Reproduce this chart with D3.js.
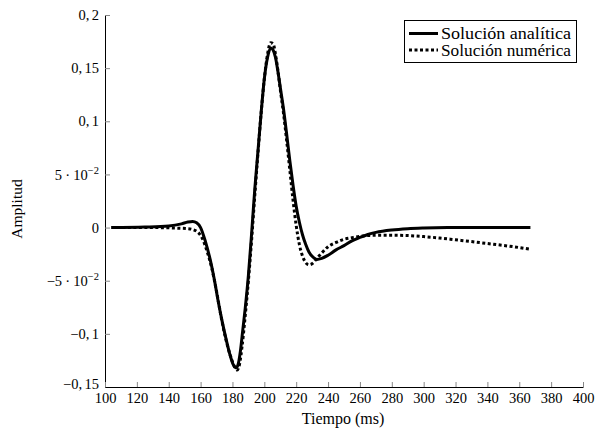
<!DOCTYPE html>
<html>
<head>
<meta charset="utf-8">
<script src="https://cdn.jsdelivr.net/npm/d3@7"></script>
<style>
  html, body { margin: 0; padding: 0; background: #fff; }
  svg { display: block; }
  text { font-family: "Liberation Serif", "DejaVu Serif", serif; fill: #000; }
</style>
</head>
<body>
<svg id="chart" width="595" height="431"></svg>
<script>
// ---- data ----
const xTicks = [100,120,140,160,180,200,220,240,260,280,300,320,340,360,380,400];
const yTicks = [-0.15,-0.1,-0.05,0,0.05,0.1,0.15,0.2];
// label parts: [mantissa pieces..., exponent]
const yTickLabels = [
  {parts: ["−0,", "15"]}, {parts: ["−0,", "1"]}, {parts: ["−5", "·", "10"], exp: "−2"},
  {parts: ["0"]}, {parts: ["5", "·", "10"], exp: "−2"},
  {parts: ["0,", "1"]}, {parts: ["0,", "15"]}, {parts: ["0,", "2"]}
];
const seriesNames = ["Solución analítica", "Solución numérica"];

const analyticT = [104,125,140,148,152,155,157.5,160,163,166,168.5,171,173.5,176,178.5,180.5,182.2,183.5,185,186.5,188,190,192,194,196,198,200,202,204,205.5,207,208.5,210,212,214,216,218,220,222,224,226,228,230,233,236,240,245,250,255,260,265,270,280,290,300,315,340,367];
const analyticV = [0,0.0005,0.0015,0.0035,0.0052,0.0058,0.0045,0.0,-0.013,-0.030,-0.048,-0.069,-0.088,-0.105,-0.120,-0.129,-0.132,-0.129,-0.116,-0.096,-0.076,-0.045,-0.006,0.036,0.072,0.108,0.140,0.160,0.169,0.167,0.160,0.147,0.132,0.112,0.088,0.063,0.040,0.020,0.005,-0.007,-0.016,-0.023,-0.027,-0.030,-0.029,-0.026,-0.021,-0.017,-0.0125,-0.0093,-0.0065,-0.0045,-0.0022,-0.001,-0.0004,0,0,0];

const numericT = [104,130,145,152,157,161,164,167,170,173,176,179,181,183,184.5,186,188,190,192,194,196,198,200,202,204,205.5,207,208.5,210,212,214,216,218,220,222,224,226,228,230,233,236,240,245,250,255,260,265,270,280,290,300,310,320,330,340,350,360,367];
const numericV = [0,0,-0.0005,-0.001,-0.003,-0.010,-0.022,-0.038,-0.060,-0.085,-0.106,-0.122,-0.130,-0.134,-0.128,-0.112,-0.083,-0.050,-0.012,0.030,0.070,0.108,0.140,0.163,0.174,0.173,0.163,0.148,0.130,0.108,0.082,0.054,0.026,0.002,-0.016,-0.027,-0.033,-0.035,-0.034,-0.029,-0.024,-0.018,-0.014,-0.011,-0.0095,-0.0082,-0.0075,-0.0072,-0.0072,-0.0075,-0.0085,-0.0098,-0.0115,-0.0132,-0.015,-0.0168,-0.0188,-0.0205];

// ---- layout ----
const svg = d3.select("#chart");
const X0 = 105, X1 = 583, Y0 = 387, Y1 = 15;
const x = d3.scaleLinear().domain([100, 400]).range([X0, X1]);
const y = d3.scaleLinear().domain([-0.15, 0.2]).range([Y0, Y1]);
const FS = 14.5;

// y axis
const gy = svg.append("g").attr("transform", `translate(${X0},0)`)
  .call(d3.axisLeft(y).tickValues(yTicks).tickSizeInner(-5).tickSizeOuter(0).tickPadding(6).tickFormat(() => ""));
gy.selectAll(".tick line").attr("stroke", "#888");
gy.select(".domain").attr("stroke", "#000").attr("stroke-width", 1);
gy.selectAll(".tick text").each(function(d, i) {
  const t = d3.select(this).attr("font-size", FS).attr("font-family", null);
  if (i === 0) t.attr("y", -3);   // lowest label sits just above the x-axis labels
  const lab = yTickLabels[yTicks.indexOf(d)];
  lab.parts.forEach((p, j) => {
    const sp = t.append("tspan").text(p);
    if (j > 0) sp.attr("dx", lab.exp ? 3.2 : 2.4);
  });
  if (lab.exp) t.append("tspan").attr("dy", -6).attr("font-size", 10.5).text(lab.exp);
});

// x axis
const gx = svg.append("g").attr("transform", `translate(0,${Y0})`)
  .call(d3.axisBottom(x).tickValues(xTicks).tickSizeInner(-5).tickSizeOuter(0).tickPadding(6).tickFormat(d3.format("d")));
gx.selectAll(".tick line").attr("stroke", "#888");
gx.select(".domain").attr("stroke", "#000").attr("stroke-width", 1);
gx.selectAll(".tick text").attr("font-size", FS).attr("font-family", null);

// axis titles
svg.append("text").attr("x", 343).attr("y", 424).attr("text-anchor", "middle")
  .attr("font-size", 16).text("Tiempo (ms)");
svg.append("text").attr("transform", "translate(21.5,209) rotate(-90)").attr("text-anchor", "middle")
  .attr("font-size", 15.5).text("Amplitud");

// lines
const line = d3.line().x(d => x(d[0])).y(d => y(d[1])).curve(d3.curveMonotoneX);
const analytic = analyticT.map((t, i) => [t, analyticV[i]]);
const numeric = numericT.map((t, i) => [t, numericV[i]]);

svg.append("path").datum(analytic).attr("d", line)
  .attr("fill", "none").attr("stroke", "#000").attr("stroke-width", 3).attr("stroke-linejoin", "round");
svg.append("path").datum(numeric).attr("d", line)
  .attr("fill", "none").attr("stroke", "#000").attr("stroke-width", 3).attr("stroke-dasharray", "3,2.5");

// legend
const lg = svg.append("g");
lg.append("rect").attr("x", 404.5).attr("y", 20.5).attr("width", 172).attr("height", 42)
  .attr("fill", "#fff").attr("stroke", "#000").attr("stroke-width", 1);
const styles = [null, "3,2.5"];
seriesNames.forEach((name, i) => {
  const yy = 33.5 + i * 16.5;
  const l = lg.append("line").attr("x1", 409).attr("x2", 438).attr("y1", yy).attr("y2", yy)
    .attr("stroke", "#000").attr("stroke-width", 3);
  if (styles[i]) l.attr("stroke-dasharray", styles[i]);
  lg.append("text").attr("x", 441).attr("y", yy + 5.5).attr("font-size", 16)
    .attr("textLength", 130).attr("lengthAdjust", "spacingAndGlyphs").text(name);
});
</script>
</body>
</html>
